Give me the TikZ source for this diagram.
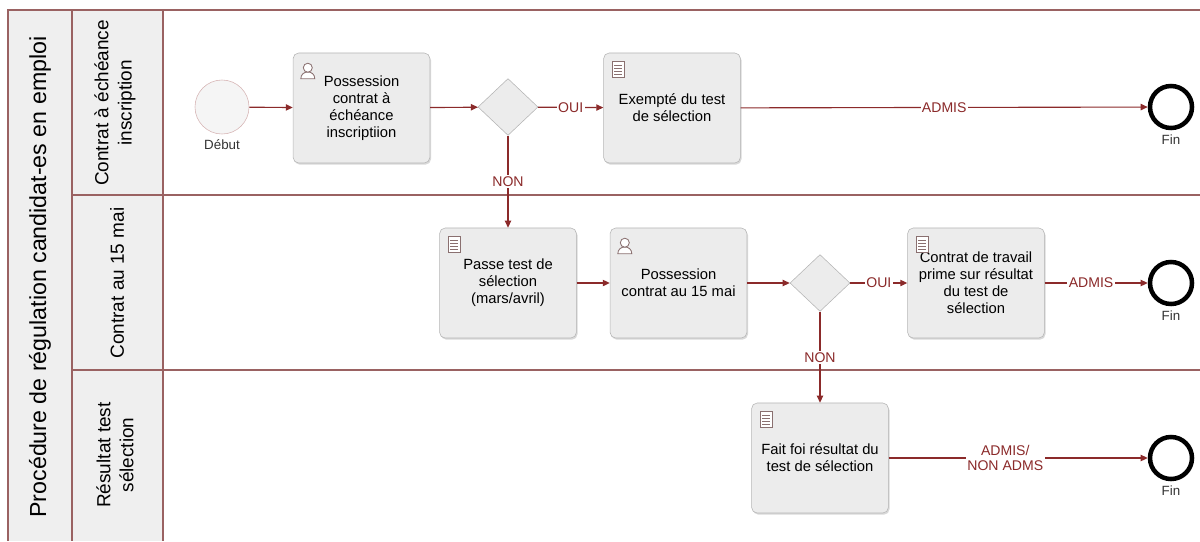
\documentclass[tikz,border=0pt]{standalone}
\usepackage{fontspec}
\setmainfont{Liberation Sans}
\usetikzlibrary{shapes.geometric,arrows.meta,shadows}
\definecolor{flowred}{HTML}{8B2A2A}
\definecolor{poolline}{HTML}{9A6262}
\definecolor{laneback}{HTML}{EFEFEF}
\definecolor{taskfill}{HTML}{ECECEC}
\definecolor{taskline}{HTML}{B5B5B5}
\definecolor{iconline}{HTML}{8A7070}
\begin{document}
\begin{tikzpicture}[x=0.025cm,y=-0.025cm,
    task/.style={draw=taskline,fill=taskfill,rounded corners=4pt,
      minimum width=3.42cm,minimum height=2.75cm,align=center,
      font=\fontsize{10.5}{12}\selectfont,
      drop shadow={opacity=0.3,shadow xshift=0.8pt,shadow yshift=-1.2pt}},
    gate/.style={diamond,draw=taskline,fill=taskfill,minimum width=1.5cm,
      minimum height=1.42cm,inner sep=0pt},
    startev/.style={circle,draw=flowred!35,fill=gray!8,minimum size=1.35cm,inner sep=0pt},
    endev/.style={circle,draw=black,line width=3.2pt,fill=white,minimum size=1.05cm,inner sep=0pt},
    evlabel/.style={font=\fontsize{9.5}{10}\selectfont,text=black!80},
    flow/.style={color=flowred,line width=0.8pt,-{Triangle[length=5pt,width=4.5pt]}},
    cond/.style={font=\fontsize{10}{11}\selectfont,text=flowred,fill=white,inner sep=1pt,align=center},
    lanetext/.style={rotate=90,align=center,font=\fontsize{13.5}{16.5}\selectfont},
    usericon/.pic={\draw[iconline,line width=0.6pt,fill=white]
      (-7,9) .. controls (-7,0) and (7,0) .. (7,9) -- cycle;
      \draw[iconline,line width=0.6pt,fill=white] (0,-2) circle[radius=4.5];},
    scripticon/.pic={\draw[iconline,line width=0.6pt,fill=white] (-6,-8) rectangle (6,8);
      \draw[iconline,line width=0.4pt] (-4,-4) -- (4,-4) (-4,-1) -- (4,-1) (-4,2) -- (4,2) (-4,5) -- (4,5);}]
  \useasboundingbox (0,0) rectangle (1200,541);
  % pool and lanes
  \fill[laneback] (8,10) rectangle (163,541);
  \draw[poolline,line width=1pt] (1200,10) -- (8,10) -- (8,541);
  \draw[poolline,line width=1pt] (72,10) -- (72,541) (163,10) -- (163,541)
    (72,195) -- (1200,195) (72,370) -- (1200,370);
  \path
    (40,277) node[rotate=90,font=\fontsize{16.5}{18}\selectfont] (pooltitle){Procédure de régulation candidat-es en emploi}
    (115,103) node[lanetext] (laneinscr){Contrat à échéance\\inscription}
    (117,283) node[lanetext] (lanemai){Contrat au 15 mai}
    (115,455) node[lanetext] (laneres){Résultat test\\sélection};
  % events, tasks, gateways
  \draw
    (222,107) node[startev,label={[evlabel]below:Début}] (debut){}
    (361.5,108) node[task] (possinscr){Possession\\contrat à\\échéance\\inscriptiion}
    (508,107) node[gate] (gateinscr){}
    (672,108) node[task] (exempt){Exempté du test\\de sélection}
    (1171,107) node[endev,label={[evlabel]below:Fin}] (fininscr){}
    (508,283) node[task] (passetest){Passe test de\\sélection\\(mars/avril)}
    (678.5,283) node[task] (possmai){Possession\\contrat au 15 mai}
    (820,283) node[gate] (gatemai){}
    (976,283) node[task] (prime){Contrat de travail\\prime sur résultat\\du test de\\sélection}
    (1171,283) node[endev,label={[evlabel]below:Fin}] (finmai){}
    (820,458) node[task] (faitfoi){Fait foi résultat du\\test de sélection}
    (1171,458) node[endev,label={[evlabel]below:Fin}] (finres){};
  \pic at ([shift={(15,17)}]possinscr.north west) {usericon};
  \pic at ([shift={(15,17)}]possmai.north west) {usericon};
  \pic at ([shift={(15,17)}]exempt.north west) {scripticon};
  \pic at ([shift={(15,17)}]passetest.north west) {scripticon};
  \pic at ([shift={(15,17)}]prime.north west) {scripticon};
  \pic at ([shift={(15,17)}]faitfoi.north west) {scripticon};
  % sequence flows
  \begin{scope}[flow]
    \draw (debut) to (possinscr);
    \draw (possinscr) to (gateinscr);
    \draw (gateinscr) to node[cond]{OUI} (exempt);
    \draw (exempt) to node[cond]{ADMIS} (fininscr);
    \draw (gateinscr) to node[cond]{NON} (passetest);
    \draw (passetest) to (possmai);
    \draw (possmai) to (gatemai);
    \draw (gatemai) to node[cond]{OUI} (prime);
    \draw (prime) to node[cond,pos=0.45]{ADMIS} (finmai);
    \draw (gatemai) to node[cond]{NON} (faitfoi);
    \draw (faitfoi) to node[cond,pos=0.45]{ADMIS/\\NON ADMS} (finres);
  \end{scope}
\end{tikzpicture}
\end{document}
